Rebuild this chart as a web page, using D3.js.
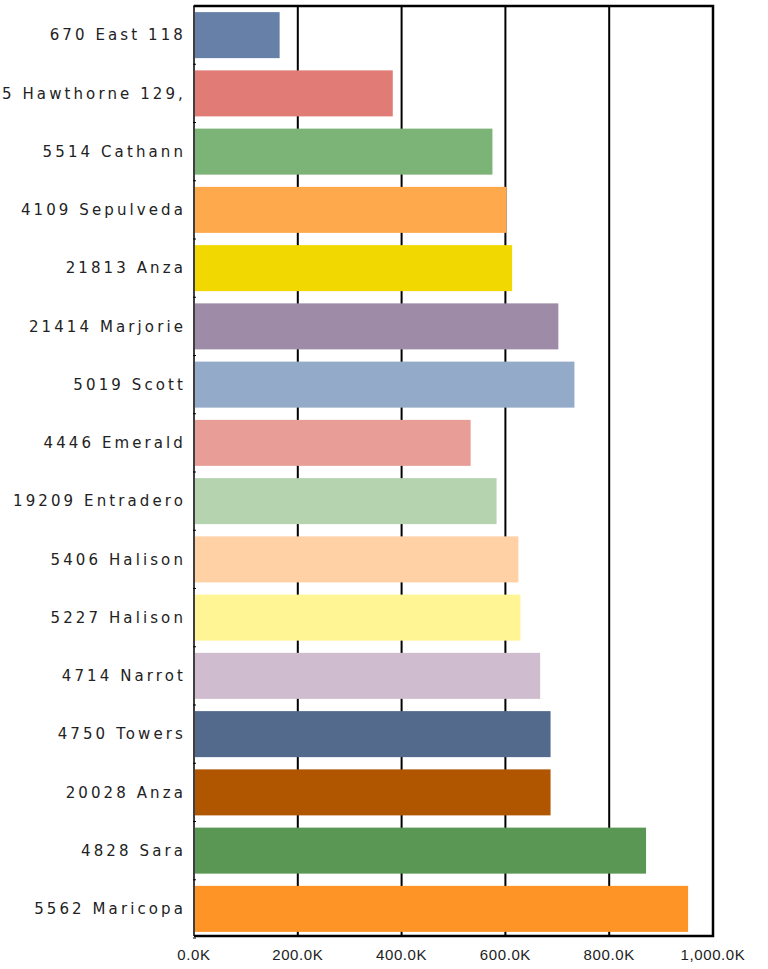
<!DOCTYPE html>
<html><head><meta charset="utf-8">
<script src="https://cdn.jsdelivr.net/npm/d3@7"></script>
<style>body{margin:0;background:#fff}svg{display:block}</style>
</head><body>
<script>
const categories = ["670 East 118","5 Hawthorne 129,","5514 Cathann","4109 Sepulveda","21813 Anza","21414 Marjorie","5019 Scott","4446 Emerald","19209 Entradero","5406 Halison","5227 Halison","4714 Narrot","4750 Towers","20028 Anza","4828 Sara","5562 Maricopa"];
const values = [165000,383000,575000,602000,613000,702000,733000,533000,583000,625000,629000,667000,687000,687000,871000,952000];
const colors = ["#6780a8","#e07b76","#7cb377","#ffa94d","#f0d800","#9e8ba8","#93aac8","#e89e96","#b5d3af","#ffd1a5","#fff595","#cfbdcf","#536a8d","#b05500","#5a9654","#ff9426"];
const tickValues = [0,200000,400000,600000,800000,1000000];

const W = 768, H = 969;
const pL = 194, pR = 713, pT = 6, pB = 936;
const svg = d3.select("body").append("svg").attr("width", W).attr("height", H);

const x = d3.scaleLinear().domain([0, 1000000]).range([pL, pR]);
const y = d3.scaleBand().domain(categories).range([pT, pB + 2]).paddingInner(0.21).paddingOuter(0.105);

// gridlines
svg.append("g").selectAll("line").data(tickValues.slice(1, -1)).join("line")
  .attr("x1", d => x(d)).attr("x2", d => x(d)).attr("y1", pT).attr("y2", pB)
  .attr("stroke", "#000").attr("stroke-width", 2);

// bars
svg.append("g").selectAll("rect").data(values).join("rect")
  .attr("x", x(0) + 1).attr("y", (d, i) => y(categories[i]))
  .attr("width", d => x(d) - x(0) - 1).attr("height", y.bandwidth())
  .attr("fill", (d, i) => colors[i]);

// border
svg.append("path")
  .attr("d", `M${pL},${pT}H${pR}V${pB}H${pL}`)
  .attr("fill", "none").attr("stroke", "#000").attr("stroke-width", 2.5);
svg.append("line").attr("x1", pL).attr("x2", pL).attr("y1", pT).attr("y2", pB)
  .attr("stroke", "#000").attr("stroke-width", 1.5);

// left band ticks
const step = y.step();
const y0 = y(categories[0]) - (step - y.bandwidth()) / 2;
svg.append("g").selectAll("line").data(d3.range(categories.length + 1)).join("line")
  .attr("x1", pL - 1).attr("x2", pL + 2)
  .attr("y1", i => y0 + i * step).attr("y2", i => y0 + i * step)
  .attr("stroke", "#000").attr("stroke-width", 1);

// category labels
svg.append("g").selectAll("text").data(categories).join("text")
  .attr("x", 186).attr("y", d => y(d) + y.bandwidth() / 2)
  .attr("dy", "0.35em").attr("text-anchor", "end")
  .attr("font-family", "DejaVu Sans, Verdana, sans-serif").attr("font-size", 15)
  .attr("letter-spacing", "3.1px").attr("fill", "#222")
  .text(d => d);

// x tick labels
const fmt = d => d3.format(",.1f")(d / 1000) + "K";
svg.append("g").selectAll("text").data(tickValues).join("text")
  .attr("x", d => x(d)).attr("y", 960).attr("text-anchor", "middle")
  .attr("font-family", "Liberation Sans, Arial, sans-serif").attr("font-size", 15)
  .attr("letter-spacing", "0.6px").attr("fill", "#222").text(fmt);
</script>
</body></html>
